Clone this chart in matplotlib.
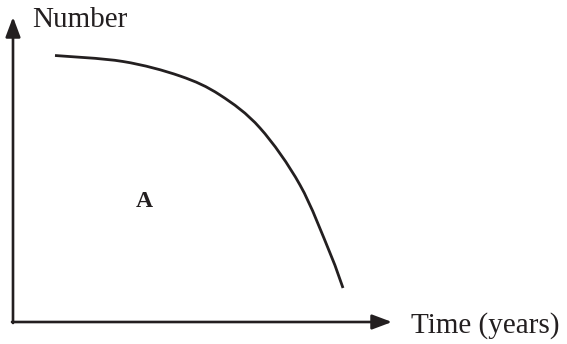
import matplotlib.pyplot as plt
from matplotlib.path import Path
from matplotlib.patches import PathPatch

# curve (time, number) in arbitrary units
time = [55, 123, 180, 220, 260, 300, 330, 343]
number = [266.5, 260.5, 246, 227, 194, 137, 69, 34]

plt.rcParams['font.family'] = 'Liberation Serif'
ink = '#231f20'

fig = plt.figure(figsize=(5.67, 3.44), dpi=100)
ax = fig.add_axes([0, 0, 1, 1])
ax.set_xlim(0, 567)
ax.set_ylim(-22, 322)
ax.axis('off')

# axes with arrows
arrow = dict(arrowstyle='-|>,head_length=1.2,head_width=0.45', lw=1.9, color=ink,
             shrinkA=0, shrinkB=0)
ax.annotate('', xy=(13, 305), xytext=(13, -1), arrowprops=arrow)
ax.annotate('', xy=(392, 0), xytext=(12, 0), arrowprops=arrow)

# smooth curve through the points (Catmull-Rom -> cubic bezier)
pts = list(zip(time, number))
verts = [pts[0]]
codes = [Path.MOVETO]
for i in range(len(pts) - 1):
    p0 = pts[i - 1] if i > 0 else pts[i]
    p1 = pts[i]
    p2 = pts[i + 1]
    p3 = pts[i + 2] if i + 2 < len(pts) else pts[i + 1]
    c1 = (p1[0] + (p2[0] - p0[0]) / 6, p1[1] + (p2[1] - p0[1]) / 6)
    c2 = (p2[0] - (p3[0] - p1[0]) / 6, p2[1] - (p3[1] - p1[1]) / 6)
    verts += [c1, c2, p2]
    codes += [Path.CURVE4] * 3
ax.add_patch(PathPatch(Path(verts, codes), fill=False, lw=2.0, edgecolor=ink, capstyle='butt'))

ax.text(32, 295, 'Number', fontsize=21, va='baseline', ha='left', color=ink)
ax.text(411, -11, 'Time (years)', fontsize=21, va='baseline', ha='left', color=ink)
ax.text(144, 115, 'A', fontsize=17, weight='bold', va='baseline', ha='center', color=ink)

fig.savefig('out.png', dpi=100)
